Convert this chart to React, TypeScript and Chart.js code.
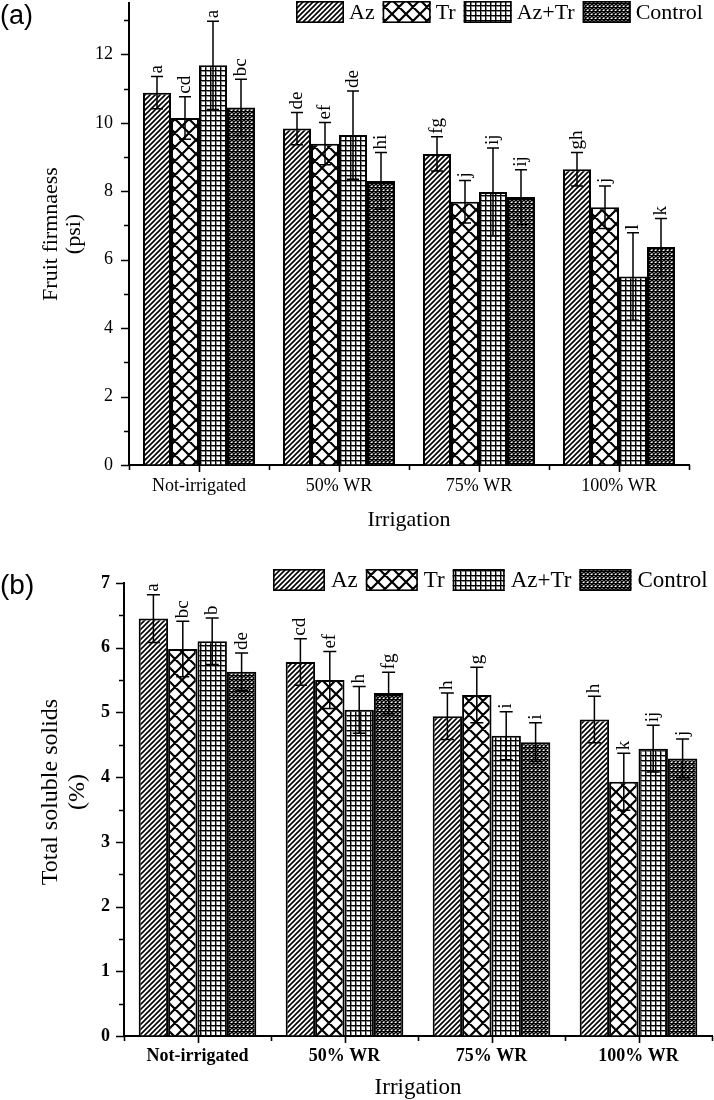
import React, { useEffect, useRef } from 'react';
import { Chart, registerables } from 'chart.js';

Chart.register(...registerables);

const SERIF = "'Liberation Serif', 'Times New Roman', serif";
const SANS = "'Liberation Sans', Arial, sans-serif";

const irrigationLevels = ['Not-irrigated', '50% WR', '75% WR', '100% WR'];
const treatments = ['Az', 'Tr', 'Az+Tr', 'Control'];

// Fruit firmness (psi)
const firmAz = [10.88, 9.83, 9.09, 8.64];
const firmTr = [10.14, 9.39, 7.69, 7.53];
const firmAzTr = [11.68, 9.64, 7.98, 5.51];
const firmControl = [10.45, 8.3, 7.83, 6.37];
const firmErrAz = [0.47, 0.47, 0.5, 0.49];
const firmErrTr = [0.62, 0.62, 0.62, 0.62];
const firmErrAzTr = [1.29, 1.29, 1.28, 1.28];
const firmErrControl = [0.82, 0.83, 0.8, 0.83];
const firmLetAz = ['a', 'de', 'fg', 'gh'];
const firmLetTr = ['cd', 'ef', 'j', 'j'];
const firmLetAzTr = ['a', 'de', 'ij', 'l'];
const firmLetControl = ['bc', 'hi', 'ij', 'k'];

// Total soluble solids (%)
const tssAz = [6.45, 5.78, 4.94, 4.89];
const tssTr = [5.98, 5.5, 5.27, 3.93];
const tssAzTr = [6.1, 5.04, 4.64, 4.44];
const tssControl = [5.63, 5.3, 4.54, 4.29];
const tssErrAz = [0.37, 0.36, 0.36, 0.36];
const tssErrTr = [0.43, 0.44, 0.43, 0.44];
const tssErrAzTr = [0.36, 0.36, 0.37, 0.36];
const tssErrControl = [0.29, 0.32, 0.3, 0.3];
const tssLetAz = ['a', 'cd', 'h', 'h'];
const tssLetTr = ['bc', 'ef', 'g', 'k'];
const tssLetAzTr = ['b', 'h', 'i', 'ij'];
const tssLetControl = ['de', 'fg', 'i', 'j'];

type Kind = 'diag' | 'diamond' | 'grid' | 'dense';
const patternKinds: Kind[] = ['diag', 'diamond', 'grid', 'dense'];

function makePattern(kind: Kind): CanvasPattern {
  const c = document.createElement('canvas');
  const g = c.getContext('2d') as CanvasRenderingContext2D;
  let s = 5;
  if (kind === 'diamond') s = 14;
  if (kind === 'dense') s = 4;
  c.width = s;
  c.height = s;
  g.fillStyle = '#fff';
  g.fillRect(0, 0, s, s);
  g.strokeStyle = '#000';
  g.fillStyle = '#000';
  if (kind === 'diag') {
    g.lineWidth = 1.6;
    g.beginPath();
    for (let k = -1; k <= 1; k++) {
      g.moveTo(k * s - 1, s + 1);
      g.lineTo(k * s + s + 1, -1);
    }
    g.stroke();
  } else if (kind === 'grid') {
    g.fillStyle = '#888';
    g.fillRect(0, 1, s, 1);
    g.fillRect(1, 0, 1, s);
    g.fillStyle = '#000';
    g.fillRect(0, 0, s, 1);
    g.fillRect(0, 0, 1, s);
  } else {
    g.lineWidth = kind === 'diamond' ? 2.2 : 1.45;
    g.beginPath();
    for (let k = -1; k <= 1; k++) {
      g.moveTo(k * s - 1, -1);
      g.lineTo(k * s + s + 1, s + 1);
      g.moveTo(k * s - 1, s + 1);
      g.lineTo(k * s + s + 1, -1);
    }
    g.stroke();
  }
  return g.createPattern(c, 'repeat') as CanvasPattern;
}

type PanelSpec = {
  tag: string;
  tagFont: number;
  tagY: number;
  width: number;
  height: number;
  area: { left: number; top: number; right: number; bottom: number };
  yMax: number;
  yMajor: number;
  yMinor: number;
  values: number[][];
  errors: number[][];
  letters: string[][];
  yTitle: string[];
  yTitleFont: number;
  yTitleX: number[];
  yTitleY: number;
  tickWeight: 'normal' | 'bold';
  tickPadY: number;
  tickPadX: number;
  xTitleFont: number;
  xTitlePad: number;
  capWidth: number;
  legendX: number;
  legendY: number;
  legendBox: number;
  legendFont: number;
  legendGapText: number;
  legendGapItem: number;
};

function Panel({ spec }: { spec: PanelSpec }) {
  const ref = useRef<HTMLCanvasElement | null>(null);

  useEffect(() => {
    const canvas = ref.current;
    if (!canvas) return;
    const patterns = patternKinds.map(makePattern);
    const { area } = spec;

    const decor = {
      id: 'panelDecor',
      afterDatasetsDraw(chart: any) {
        const ctx = chart.ctx as CanvasRenderingContext2D;
        const y = chart.scales.y;
        ctx.save();
        ctx.strokeStyle = '#000';
        ctx.fillStyle = '#000';
        ctx.lineWidth = 1.5;
        spec.values.forEach((vals, i) => {
          const meta = chart.getDatasetMeta(i);
          meta.data.forEach((el: any, j: number) => {
            const v = vals[j];
            const e = spec.errors[i][j];
            const x = el.x;
            const yt = y.getPixelForValue(v + e);
            const yb = y.getPixelForValue(v - e);
            const hw = spec.capWidth / 2;
            ctx.beginPath();
            ctx.moveTo(x, yt);
            ctx.lineTo(x, yb);
            ctx.moveTo(x - hw, yt);
            ctx.lineTo(x + hw, yt);
            ctx.moveTo(x - hw, yb);
            ctx.lineTo(x + hw, yb);
            ctx.stroke();
            // significance letters, rotated, above the cap
            ctx.save();
            ctx.translate(x, yt - 3);
            ctx.rotate(-Math.PI / 2);
            ctx.font = `19px ${SERIF}`;
            ctx.textAlign = 'left';
            ctx.textBaseline = 'middle';
            ctx.fillText(spec.letters[i][j], 0, 0);
            ctx.restore();
          });
        });
        ctx.restore();
      },
      afterDraw(chart: any) {
        const ctx = chart.ctx as CanvasRenderingContext2D;
        const ca = chart.chartArea;
        const x = chart.scales.x;
        const y = chart.scales.y;
        ctx.save();
        ctx.strokeStyle = '#000';
        ctx.lineWidth = 1.6;
        ctx.beginPath();
        // y-axis tick marks: major and minor
        for (let v = 0; v <= spec.yMax + 1e-9; v += spec.yMinor) {
          const isMajor = Math.abs(v / spec.yMajor - Math.round(v / spec.yMajor)) < 1e-6;
          const py = Math.round(y.getPixelForValue(v)) + 0.5;
          ctx.moveTo(ca.left, py);
          ctx.lineTo(ca.left - (isMajor ? 8 : 5), py);
        }
        // x-axis tick marks: long at categories, short at boundaries
        const n = irrigationLevels.length;
        for (let j = 0; j < n; j++) {
          const px = Math.round(x.getPixelForValue(j)) + 0.5;
          ctx.moveTo(px, ca.bottom);
          ctx.lineTo(px, ca.bottom + 7);
        }
        for (let j = 0; j <= n; j++) {
          const px = Math.round(x.getPixelForValue(j - 0.5)) + 0.5;
          ctx.moveTo(px, ca.bottom);
          ctx.lineTo(px, ca.bottom + 5);
        }
        ctx.stroke();

        // y-axis title
        ctx.fillStyle = '#000';
        ctx.font = `${spec.yTitleFont}px ${SERIF}`;
        ctx.textAlign = 'center';
        ctx.textBaseline = 'middle';
        spec.yTitle.forEach((line, k) => {
          ctx.save();
          ctx.translate(spec.yTitleX[k], spec.yTitleY);
          ctx.rotate(-Math.PI / 2);
          ctx.fillText(line, 0, 0);
          ctx.restore();
        });

        // legend
        ctx.font = `${spec.legendFont}px ${SERIF}`;
        ctx.textAlign = 'left';
        let lx = spec.legendX;
        const bh = 22;
        treatments.forEach((name, i) => {
          ctx.fillStyle = patterns[i];
          ctx.fillRect(lx, spec.legendY, spec.legendBox, bh);
          ctx.lineWidth = 1.6;
          ctx.strokeRect(lx + 0.8, spec.legendY + 0.8, spec.legendBox - 1.6, bh - 1.6);
          lx += spec.legendBox + spec.legendGapText;
          ctx.fillStyle = '#000';
          ctx.fillText(name, lx, spec.legendY + bh / 2 + 1);
          lx += ctx.measureText(name).width + spec.legendGapItem;
        });

        // panel tag
        ctx.font = `${spec.tagFont}px ${SANS}`;
        ctx.textBaseline = 'middle';
        ctx.fillText(spec.tag, 0, spec.tagY);
        ctx.restore();
      },
    };

    const chart = new Chart(canvas, {
      type: 'bar',
      data: {
        labels: irrigationLevels,
        datasets: treatments.map((name, i) => ({
          label: name,
          data: spec.values[i],
          backgroundColor: patterns[i],
          borderColor: '#000',
          borderWidth: 2,
          categoryPercentage: 0.8,
          barPercentage: 1.0,
        })),
      },
      options: {
        responsive: false,
        animation: false,
        devicePixelRatio: 1,
        layout: {
          padding: {
            left: 0,
            top: area.top,
            right: spec.width - area.right,
            bottom: 0,
          },
        },
        plugins: {
          legend: { display: false },
          tooltip: { enabled: false },
        },
        scales: {
          x: {
            type: 'category',
            offset: true,
            grid: { display: true, drawOnChartArea: false, drawTicks: false },
            border: { color: '#000', width: 2 },
            ticks: {
              color: '#000',
              padding: spec.tickPadX,
              font: { family: SERIF, size: 18, weight: spec.tickWeight },
            },
            title: {
              display: true,
              text: 'Irrigation',
              color: '#000',
              font: { family: SERIF, size: spec.xTitleFont, lineHeight: 1 },
              padding: { top: 0, bottom: spec.xTitlePad },
            },
            afterFit: (s: any) => {
              s.height = spec.height - area.bottom;
              s.paddingLeft = 0;
              s.paddingRight = 0;
            },
          },
          y: {
            type: 'linear',
            min: 0,
            max: spec.yMax,
            grid: { display: true, drawOnChartArea: false, drawTicks: false },
            border: { color: '#000', width: 2 },
            ticks: {
              stepSize: spec.yMajor,
              includeBounds: false,
              color: '#000',
              padding: spec.tickPadY,
              font: { family: SERIF, size: 18, weight: spec.tickWeight },
            },
            afterFit: (s: any) => {
              s.width = area.left;
              s.paddingTop = 0;
              s.paddingBottom = 0;
            },
          },
        },
      },
      plugins: [decor],
    } as any);

    return () => chart.destroy();
  }, [spec]);

  return (
    <canvas
      ref={ref}
      width={spec.width}
      height={spec.height}
      style={{ display: 'block', width: spec.width, height: spec.height }}
    />
  );
}

const firmnessPanel: PanelSpec = {
  tag: '(a)',
  tagFont: 27,
  tagY: 17,
  width: 714,
  height: 540,
  area: { left: 129, top: 3, right: 689, bottom: 465 },
  yMax: 13.5,
  yMajor: 2,
  yMinor: 1,
  values: [firmAz, firmTr, firmAzTr, firmControl],
  errors: [firmErrAz, firmErrTr, firmErrAzTr, firmErrControl],
  letters: [firmLetAz, firmLetTr, firmLetAzTr, firmLetControl],
  yTitle: ['Fruit firmnaess', '(psi)'],
  yTitleFont: 22,
  yTitleX: [51, 74],
  yTitleY: 234,
  tickWeight: 'normal',
  tickPadY: 16,
  tickPadX: 10,
  xTitleFont: 22,
  xTitlePad: 9,
  capWidth: 12,
  legendX: 296,
  legendY: 1,
  legendBox: 48,
  legendFont: 22,
  legendGapText: 5,
  legendGapItem: 8,
};

const tssPanel: PanelSpec = {
  tag: '(b)',
  tagFont: 28,
  tagY: 46,
  width: 714,
  height: 560,
  area: { left: 124, top: 43, right: 712, bottom: 496 },
  yMax: 7,
  yMajor: 1,
  yMinor: 0.5,
  values: [tssAz, tssTr, tssAzTr, tssControl],
  errors: [tssErrAz, tssErrTr, tssErrAzTr, tssErrControl],
  letters: [tssLetAz, tssLetTr, tssLetAzTr, tssLetControl],
  yTitle: ['Total soluble solids', '(%)'],
  yTitleFont: 24,
  yTitleX: [51, 78],
  yTitleY: 252,
  tickWeight: 'bold',
  tickPadY: 14,
  tickPadX: 10,
  xTitleFont: 23,
  xTitlePad: 1,
  capWidth: 13,
  legendX: 273,
  legendY: 29,
  legendBox: 52,
  legendFont: 23,
  legendGapText: 6,
  legendGapItem: 8,
};

export default function App() {
  return (
    <div style={{ position: 'absolute', left: 0, top: 0, width: 714, height: 1100, background: '#fff' }}>
      <Panel spec={firmnessPanel} />
      <Panel spec={tssPanel} />
    </div>
  );
}
